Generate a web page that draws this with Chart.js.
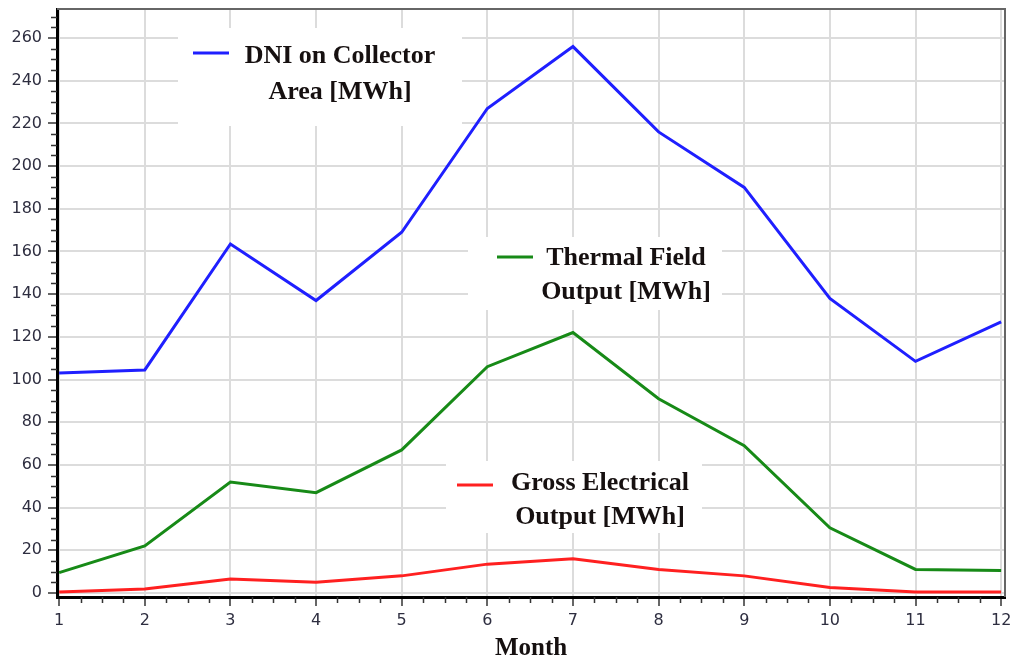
<!DOCTYPE html>
<html>
<head>
<meta charset="utf-8">
<script src="https://cdn.jsdelivr.net/npm/chart.js@4.4.1/dist/chart.umd.min.js"></script>
<style>
  html, body { margin: 0; padding: 0; background: #ffffff; }
  #wrap { width: 1013px; height: 661px; }
</style>
</head>
<body>
<div id="wrap"><canvas id="chart" width="1013" height="661"></canvas></div>
<script>
// data
const months = [1, 2, 3, 4, 5, 6, 7, 8, 9, 10, 11, 12];
const dniCollector = [103, 104.5, 163.5, 137, 169, 227, 256, 216, 190, 138, 108.5, 127];
const thermalOutput = [9.5, 22, 52, 47, 67, 106, 122, 91, 69, 30.5, 11, 10.5];
const grossElectrical = [0.5, 1.8, 6.5, 5, 8, 13.5, 16, 11, 8, 2.5, 0.5, 0.5];

const seriesLabels = [
  ["DNI on Collector", "Area [MWh]"],
  ["Thermal Field", "Output [MWh]"],
  ["Gross Electrical", "Output [MWh]"],
];
const xTitle = "Month";

// colors
const blue = "#1f1fff";
const green = "#178a17";
const red = "#ff2020";
const grid = "#dcdcdc";

const toPoints = (vals) => vals.map((v, i) => ({ x: months[i], y: v }));

// legend boxes sit inside the plot, in canvas pixels
const boxes = [
  { x: 178, y: 28, w: 284, h: 98, lx: 193, ly: 53, cx: 340, ty: 56, gap: 36 },
  { x: 468, y: 237, w: 254, h: 73, lx: 497, ly: 257, cx: 626, ty: 258, gap: 34 },
  { x: 446, y: 461, w: 256, h: 72, lx: 457, ly: 485, cx: 600, ty: 483, gap: 34 },
];

const legendBoxes = {
  id: "legendBoxes",
  beforeDatasetsDraw(chart) {
    const ctx = chart.ctx;
    ctx.save();
    chart.data.datasets.forEach((ds, i) => {
      const b = boxes[i];
      ctx.fillStyle = "#ffffff";
      ctx.fillRect(b.x, b.y, b.w, b.h);
      ctx.strokeStyle = ds.borderColor;
      ctx.lineWidth = 3;
      ctx.beginPath();
      ctx.moveTo(b.lx, b.ly);
      ctx.lineTo(b.lx + 36, b.ly);
      ctx.stroke();
      ctx.fillStyle = "#161010";
      ctx.font = "bold 26px 'Liberation Serif', 'Times New Roman', serif";
      ctx.textAlign = "center";
      ctx.textBaseline = "middle";
      ds.label.forEach((line, j) => {
        ctx.fillText(line, b.cx, b.ty + j * b.gap);
      });
    });
    ctx.restore();
  },
};

// minor ticks and the top/right frame
const frame = {
  id: "frame",
  afterDraw(chart) {
    const ctx = chart.ctx;
    const a = chart.chartArea;
    const xs = chart.scales.x;
    const ys = chart.scales.y;
    ctx.save();
    ctx.strokeStyle = "#666666";
    ctx.lineWidth = 2;
    ctx.beginPath();
    ctx.moveTo(a.left, a.top);
    ctx.lineTo(a.right, a.top);
    ctx.lineTo(a.right, a.bottom);
    ctx.stroke();

    ctx.strokeStyle = "#333333";
    ctx.lineWidth = 1.5;
    ctx.beginPath();
    for (let v = 0; v <= ys.max; v += 5) {
      if (v % 20 === 0) continue;
      const y = Math.round(ys.getPixelForValue(v)) + 0.5;
      ctx.moveTo(a.left - 6, y);
      ctx.lineTo(a.left, y);
    }
    for (let m = months[0]; m < months[months.length - 1]; m += 0.25) {
      if (m % 1 === 0) continue;
      const x = Math.round(xs.getPixelForValue(m)) + 0.5;
      ctx.moveTo(x, a.bottom);
      ctx.lineTo(x, a.bottom + 6);
    }
    ctx.stroke();
    ctx.restore();
  },
};

const tickFont = { family: "'DejaVu Sans', sans-serif", size: 16 };
const tickColor = "#2e2e40";

new Chart(document.getElementById("chart"), {
  type: "line",
  data: {
    datasets: [
      { label: seriesLabels[0], data: toPoints(dniCollector), borderColor: blue },
      { label: seriesLabels[1], data: toPoints(thermalOutput), borderColor: green },
      { label: seriesLabels[2], data: toPoints(grossElectrical), borderColor: red },
    ],
  },
  options: {
    responsive: false,
    animation: false,
    layout: { padding: { top: 9, right: 8, left: 0, bottom: 0 } },
    elements: {
      line: { borderWidth: 3, tension: 0, fill: false },
      point: { radius: 0 },
    },
    scales: {
      x: {
        type: "linear",
        min: 0.975,
        max: 12.045,
        afterFit: (s) => {
          s.height = 64;
          s.paddingLeft = 0;
          s.paddingRight = 0;
        },
        ticks: {
          stepSize: 1,
          includeBounds: false,
          font: tickFont,
          color: tickColor,
          padding: 5,
          maxRotation: 0,
        },
        grid: { color: grid, lineWidth: 2, tickLength: 9, tickColor: "#333333", tickWidth: 1.5 },
        border: { color: "#000000", width: 3 },
        title: {
          display: true,
          text: xTitle,
          color: "#161010",
          font: { family: "'Liberation Serif', 'Times New Roman', serif", size: 25, weight: "bold", lineHeight: 1 },
          padding: { top: 0, bottom: 0 },
        },
      },
      y: {
        min: -1.9,
        max: 273.6,
        afterFit: (s) => {
          s.width = 57;
          s.paddingTop = 0;
          s.paddingBottom = 0;
        },
        ticks: {
          stepSize: 20,
          includeBounds: false,
          font: tickFont,
          color: tickColor,
          padding: 6,
        },
        grid: { color: grid, lineWidth: 2, tickLength: 9, tickColor: "#333333", tickWidth: 1.5 },
        border: { color: "#000000", width: 3 },
      },
    },
    plugins: {
      legend: { display: false },
      tooltip: { enabled: false },
    },
  },
  plugins: [legendBoxes, frame],
});
</script>
</body>
</html>
